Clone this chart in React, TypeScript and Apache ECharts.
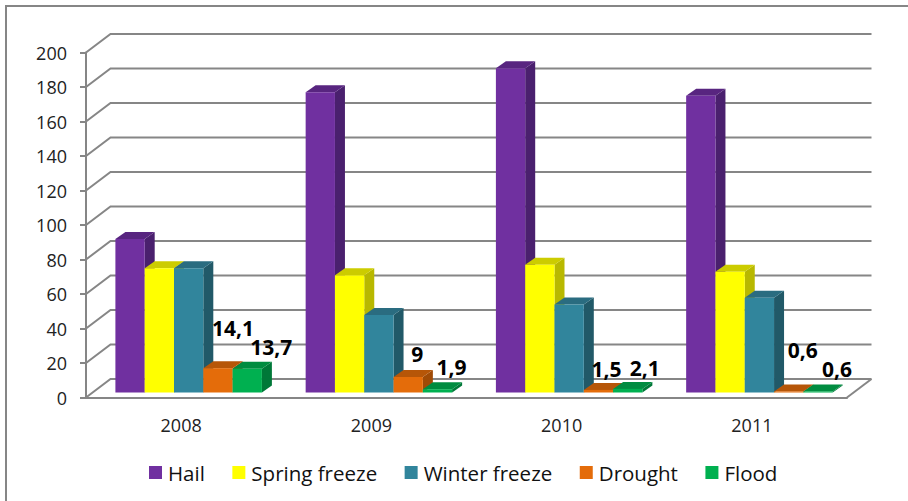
import React, { useEffect, useRef } from "react";
import * as echarts from "echarts";

const years = ["2008", "2009", "2010", "2011"];
const hail = [89, 174, 188, 172];
const springFreeze = [72, 68, 74, 70];
const winterFreeze = [72, 45, 51, 55];
const drought = [14.1, 9, 1.5, 0.6];
const flood = [13.7, 1.9, 2.1, 0.6];
const gridTicks = [0, 20, 40, 60, 80, 100, 120, 140, 160, 180, 200];

// Face colours of each prism: front, top, side.
const palette = [
  { name: "Hail", values: hail, front: "#7030A0", top: "#582580", side: "#4A206E" },
  { name: "Spring freeze", values: springFreeze, front: "#FFFF00", top: "#CCCC00", side: "#B8B800" },
  { name: "Winter freeze", values: winterFreeze, front: "#31859C", top: "#2A6C80", side: "#215968" },
  { name: "Drought", values: drought, front: "#E46C0A", top: "#B65608", side: "#A04B06" },
  { name: "Flood", values: flood, front: "#00B050", top: "#008C40", side: "#007838" },
];

const AXIS = "#868686";
const FONT = "'Open Sans', 'Noto Sans', sans-serif";

// Projection of the 3D box: back wall offset and prism depth, in pixels.
const WALL_DX = 24.5;
const WALL_DY = 18.5;
const BAR_DX = 10;
const BAR_DY = 7;
const FLOOR_LIFT = 5;
const BAR_W = 29.3;
const BAR_INSET = 29.4;

// Where each value label sits relative to the top centre of its bar.
const droughtLabelOffsets = [[15, -40], [9, -23], [8, -21], [14, -41]];
const floodLabelOffsets = [[24, -22], [14, -22], [17, -21], [19, -22]];

const barTop = (api: any, catIndex: number, value: number, seriesIndex: number) => {
  const p = api.coord([catIndex, value]);
  const band = api.size([1, 0])[0];
  const x = p[0] - band / 2 + BAR_INSET + seriesIndex * BAR_W;
  return { x, y: p[1] - FLOOR_LIFT };
};

const prismSeries = (item: (typeof palette)[number], seriesIndex: number) => ({
  type: "custom",
  name: item.name,
  z: 3,
  itemStyle: { color: item.front },
  encode: { x: 0, y: 1 },
  data: item.values.map((v, i) => [i, v]),
  renderItem: (_params: any, api: any) => {
    const { x, y } = barTop(api, api.value(0), api.value(1), seriesIndex);
    const base = api.coord([api.value(0), 0])[1] - FLOOR_LIFT;
    const r = x + BAR_W;
    return {
      type: "group",
      children: [
        {
          type: "polygon",
          shape: { points: [[r, y], [r + BAR_DX, y - BAR_DY], [r + BAR_DX, base - BAR_DY], [r, base]] },
          style: { fill: item.side },
        },
        {
          type: "polygon",
          shape: { points: [[x, y], [x + BAR_DX, y - BAR_DY], [r + BAR_DX, y - BAR_DY], [r, y]] },
          style: { fill: item.top },
        },
        { type: "rect", shape: { x, y, width: BAR_W, height: base - y }, style: { fill: item.front } },
      ],
    };
  },
});

const labelSeries = (values: number[], offsets: number[][], seriesIndex: number) => ({
  type: "custom",
  z: 5,
  encode: { x: 0, y: 1 },
  data: values.map((v, i) => [i, v]),
  renderItem: (_params: any, api: any) => {
    const i = api.value(0);
    const v = api.value(1);
    const { x, y } = barTop(api, i, v, seriesIndex);
    return {
      type: "text",
      style: {
        x: x + BAR_W / 2 + offsets[i][0],
        y: y + offsets[i][1],
        text: String(v).replace(".", ","),
        font: `bold 21px ${FONT}`,
        fill: "#000",
        align: "center",
        verticalAlign: "middle",
      },
    };
  },
});

// Back wall and floor lines, running from the front axis to the far plane.
const wallSeries = {
  type: "custom",
  z: 1,
  encode: { y: 0 },
  data: gridTicks.map((t) => [0, t]),
  renderItem: (params: any, api: any) => {
    const y = api.coord([0, api.value(1)])[1];
    const left = params.coordSys.x;
    const right = left + params.coordSys.width;
    const line = { stroke: AXIS, lineWidth: 2, fill: "none" };
    const children: any[] = [
      {
        type: "polyline",
        shape: { points: [[left, y], [left + WALL_DX, y - WALL_DY], [right + WALL_DX, y - WALL_DY]] },
        style: line,
      },
    ];
    if (api.value(1) === 0) {
      children.push({
        type: "line",
        shape: { x1: right, y1: y, x2: right + WALL_DX, y2: y - WALL_DY },
        style: line,
      });
    }
    return { type: "group", children };
  },
};

export default function App() {
  const ref = useRef<HTMLDivElement>(null);

  useEffect(() => {
    document.body.style.margin = "0";
    const chart = echarts.init(ref.current!, undefined, { renderer: "svg" });
    chart.setOption({
      animation: false,
      backgroundColor: "#fff",
      textStyle: { fontFamily: FONT },
      grid: { left: 86, right: 61, top: 52.5, bottom: 103.5, containLabel: false },
      xAxis: {
        type: "category",
        data: years,
        axisLine: { lineStyle: { color: AXIS, width: 2 } },
        axisTick: { length: 7, lineStyle: { color: AXIS, width: 2 } },
        axisLabel: { color: "#222", fontSize: 18, margin: 18, fontFamily: FONT },
      },
      yAxis: {
        type: "value",
        min: 0,
        max: 200,
        interval: 20,
        splitLine: { show: false },
        axisLine: { show: true, lineStyle: { color: AXIS, width: 2 } },
        axisTick: { show: true, length: 6, lineStyle: { color: AXIS, width: 2 } },
        axisLabel: { color: "#222", fontSize: 18, margin: 19, fontFamily: FONT },
      },
      legend: {
        left: 144,
        top: 457,
        icon: "rect",
        itemWidth: 13,
        itemHeight: 13,
        itemGap: 27.5,
        data: palette.map((p) => p.name),
        textStyle: { color: "#111", fontSize: 20.5, fontFamily: FONT, padding: [0, 0, 0, 1] },
      },
      graphic: [
        {
          type: "polyline",
          shape: { points: [[6, 501], [6, 6], [908, 6]] },
          style: { stroke: AXIS, lineWidth: 2, fill: "none" },
        },
      ],
      series: [
        wallSeries,
        ...palette.map(prismSeries),
        labelSeries(drought, droughtLabelOffsets, 3),
        labelSeries(flood, floodLabelOffsets, 4),
      ],
    });
    return () => chart.dispose();
  }, []);

  return <div ref={ref} style={{ width: 908, height: 501 }} />;
}
